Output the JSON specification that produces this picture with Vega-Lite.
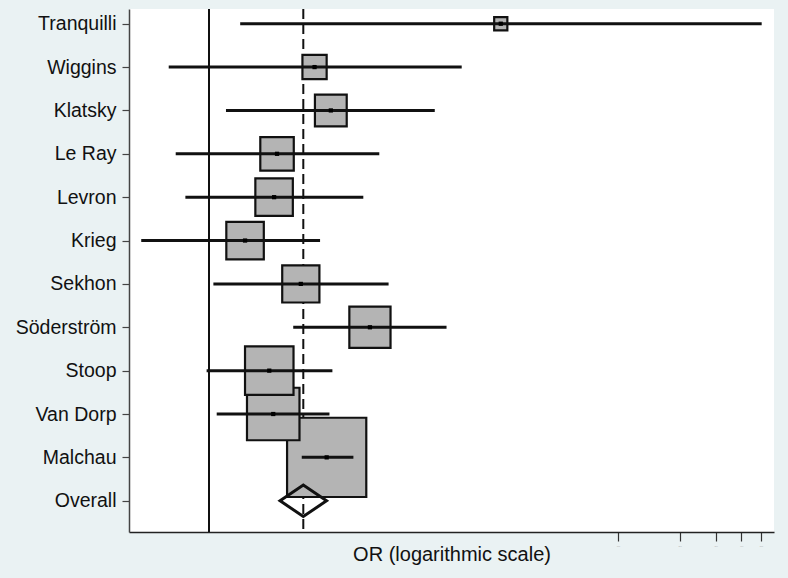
{
  "$schema": "https://vega.github.io/schema/vega-lite/v6.json",
  "width": 645,
  "height": 523,
  "autosize": {"type": "none"},
  "padding": {"left": 129, "top": 9, "right": 14, "bottom": 46},
  "background": "#eaf2f3",
  "config": {
    "view": {"stroke": null, "fill": "white"},
    "font": "Liberation Sans",
    "axis": {"grid": false, "labelFont": "Liberation Sans", "titleFont": "Liberation Sans", "titleFontWeight": "normal"},
    "axisY": {"labelFontSize": 19.5, "labelColor": "#111111", "labelPadding": 6, "tickSize": 7, "tickColor": "#444444", "tickWidth": 1.2, "domainColor": "#444444", "domainWidth": 1.5, "title": null},
    "axisX": {"labelFontSize": 2, "labelColor": "#aaaaaa", "labelPadding": 3, "tickSize": 9, "tickColor": "#333333", "tickWidth": 1.2, "domainColor": "#222222", "domainWidth": 1.5, "titleFontSize": 20, "titleColor": "#111111", "titlePadding": -2}
  },
  "data": {
    "values": [
      {"study": "Tranquilli", "lo": 1.42, "est": 26.7, "hi": 504, "weight": 0.86},
      {"study": "Wiggins", "lo": 0.635, "est": 3.28, "hi": 17.2, "weight": 2.91},
      {"study": "Klatsky", "lo": 1.21, "est": 3.94, "hi": 12.7, "weight": 5.01},
      {"study": "Le Ray", "lo": 0.687, "est": 2.15, "hi": 6.8, "weight": 5.56},
      {"study": "Levron", "lo": 0.766, "est": 2.08, "hi": 5.68, "weight": 6.97},
      {"study": "Krieg", "lo": 0.466, "est": 1.5, "hi": 3.49, "weight": 6.97},
      {"study": "Sekhon", "lo": 1.05, "est": 2.81, "hi": 7.55, "weight": 6.86},
      {"study": "Söderström", "lo": 2.58, "est": 6.12, "hi": 14.5, "weight": 8.41},
      {"study": "Stoop", "lo": 0.973, "est": 1.97, "hi": 4.01, "weight": 11.66},
      {"study": "Van Dorp", "lo": 1.09, "est": 2.06, "hi": 3.88, "weight": 13.67},
      {"study": "Malchau", "lo": 2.84, "est": 3.76, "hi": 5.08, "weight": 31.11},
      {"study": "Overall", "lo": 2.2, "est": 2.89, "hi": 3.88, "weight": null}
    ]
  },
  "layer": [
    {
      "mark": {"type": "rule", "color": "#111111", "strokeWidth": 1.8},
      "encoding": {
        "x": {"datum": 1, "type": "quantitative", "scale": {"type": "log", "domain": [0.406, 579], "nice": false}, "title": "OR (logarithmic scale)", "axis": {"values": [100, 200, 300, 400, 500]}}
      }
    },
    {
      "transform": [{"filter": "datum.study === 'Overall'"}],
      "mark": {"type": "rule", "color": "#111111", "strokeWidth": 2, "strokeDash": [10, 5]},
      "encoding": {
        "x": {"field": "est", "type": "quantitative", "title": "OR (logarithmic scale)"}
      }
    },
    {
      "transform": [{"filter": "datum.weight != null"}],
      "mark": {"type": "point", "shape": "square", "filled": true, "fill": "#b4b4b4", "stroke": "#111111", "strokeWidth": 2.2, "opacity": 1},
      "encoding": {
        "x": {"field": "est", "type": "quantitative", "title": "OR (logarithmic scale)"},
        "y": {"field": "study", "type": "nominal", "scale": {"type": "point", "domain": ["Tranquilli", "Wiggins", "Klatsky", "Le Ray", "Levron", "Krieg", "Sekhon", "Söderström", "Stoop", "Van Dorp", "Malchau", "Overall"], "padding": 0.53, "align": 0.32}},
        "size": {"field": "weight", "type": "quantitative", "scale": {"type": "linear", "domain": [0, 100], "range": [0, 20167], "zero": true}, "legend": null},
        "order": {"field": "weight", "sort": "descending"}
      }
    },
    {
      "transform": [{"filter": "datum.study === 'Overall'"}],
      "mark": {"type": "point", "shape": "M -1 0 L 0 -0.68 L 1 0 L 0 0.68 Z", "filled": false, "stroke": "#111111", "strokeWidth": 3, "size": 2160, "opacity": 1},
      "encoding": {
        "x": {"field": "est", "type": "quantitative", "title": "OR (logarithmic scale)"},
        "y": {"field": "study", "type": "nominal"}
      }
    },
    {
      "transform": [{"filter": "datum.weight != null"}],
      "mark": {"type": "rule", "color": "#111111", "strokeWidth": 3},
      "encoding": {
        "x": {"field": "lo", "type": "quantitative", "title": "OR (logarithmic scale)"},
        "x2": {"field": "hi"},
        "y": {"field": "study", "type": "nominal"}
      }
    },
    {
      "transform": [{"filter": "datum.weight != null"}],
      "mark": {"type": "point", "shape": "square", "filled": true, "color": "#000000", "size": 18, "opacity": 1},
      "encoding": {
        "x": {"field": "est", "type": "quantitative", "title": "OR (logarithmic scale)"},
        "y": {"field": "study", "type": "nominal"}
      }
    }
  ]
}
